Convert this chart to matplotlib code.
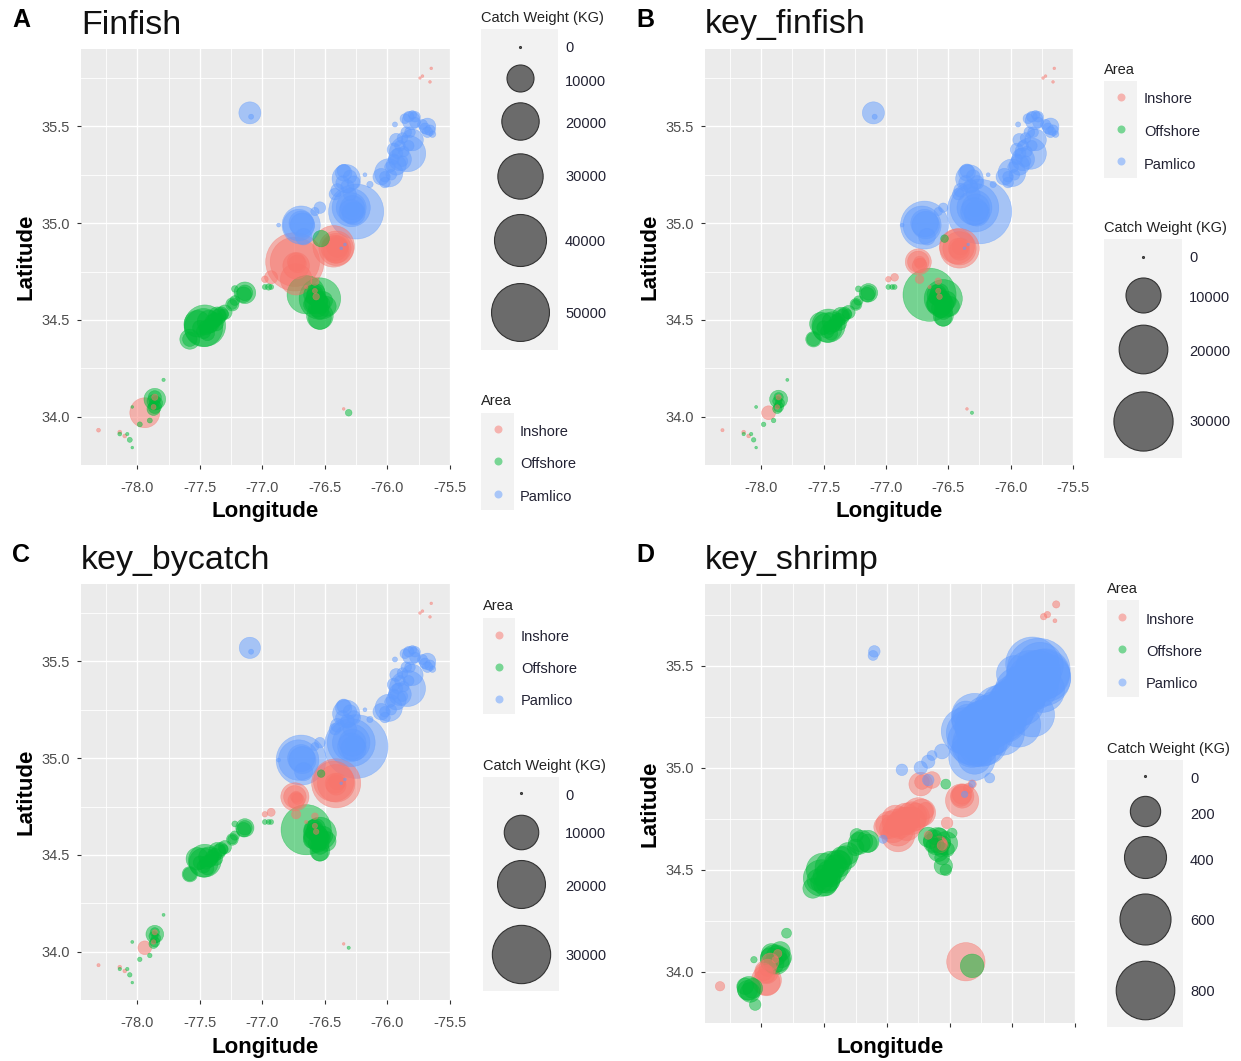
#!/usr/bin/env python
# four panel catch map, sites share positions in panels A-C, D has its own
import numpy as np
import matplotlib
matplotlib.use('Agg')
import matplotlib.pyplot as plt
from matplotlib.patches import Rectangle

plt.rcParams['font.family'] = ['Liberation Sans', 'DejaVu Sans']

W, H = 1241, 1061
colors = {'Inshore': '#F8766D', 'Offshore': '#00BA38', 'Pamlico': '#619CFF'}
areas = ['Inshore', 'Offshore', 'Pamlico']

blue_lon = [-75.68, -75.72, -75.81, -75.80, -75.86, -75.80, -75.64, -75.94, -75.93, -75.95, -75.84, -75.90,
            -75.99, -76.05, -75.93, -76.14, -76.18, -76.33, -76.35, -76.42, -76.25, -76.29, -76.29, -76.27,
            -76.69, -76.71, -76.67, -76.54, -76.58, -76.87, -76.37, -76.34, -77.10, -77.09]
blue_lat = [35.50, 35.51, 35.53, 35.56, 35.54, 35.43, 35.46, 35.51, 35.43, 35.38, 35.36, 35.33,
            35.26, 35.24, 35.30, 35.20, 35.25, 35.23, 35.26, 35.15, 35.06, 35.08, 35.08, 35.05,
            34.99, 34.99, 34.93, 35.08, 35.06, 34.99, 34.87, 34.89, 35.57, 35.55]
blue_a = [3400, 1000, 4200, 650, 1000, 6200, 350, 150, 2000, 2000, 19000, 7000,
          11000, 3400, 5200, 300, 60, 11000, 3400, 1500, 45000, 21000, 12500, 7000,
          21000, 14000, 3400, 1500, 650, 60, 10, 10, 6400, 150]
blue_b = [2000, 600, 2400, 400, 600, 3500, 200, 90, 1100, 1100, 8000, 4000,
          6000, 2000, 3000, 170, 35, 6000, 2000, 850, 36000, 20000, 10000, 5000,
          19400, 12000, 2000, 500, 350, 35, 5, 5, 3700, 90]
blue_c = [2000, 600, 2400, 400, 600, 3500, 200, 90, 1100, 1100, 11000, 4000,
          6000, 2000, 3000, 170, 35, 6000, 2000, 850, 36000, 20000, 12000, 5000,
          21800, 14000, 2500, 700, 350, 35, 5, 5, 3500, 90]

green_lon = [-76.54, -76.65, -76.54, -76.54, -76.57, -76.59, -76.49, -76.53, -77.46, -77.47, -77.52, -77.43,
             -77.36, -77.31, -77.58, -77.24, -77.14, -77.22, -76.98, -76.93, -76.95, -77.86, -77.86, -77.98,
             -77.90, -77.79, -78.04, -78.14, -78.08, -78.06, -78.04, -76.31]
green_lat = [34.61, 34.63, 34.52, 34.51, 34.59, 34.63, 34.57, 34.92, 34.47, 34.46, 34.48, 34.49,
             34.52, 34.53, 34.40, 34.58, 34.64, 34.66, 34.67, 34.67, 34.67, 34.09, 34.05, 33.96,
             33.98, 34.19, 34.05, 33.91, 33.91, 33.88, 33.84, 34.02]
green_a = [25000, 21000, 9700, 7000, 7000, 5200, 5200, 3400, 25000, 21000, 9700, 7000,
           4200, 1000, 5200, 2000, 6200, 350, 150, 150, 300, 6200, 2000, 150,
           150, 30, 10, 60, 30, 150, 10, 350]
green_b = [12000, 24000, 3000, 2000, 5000, 3000, 3000, 300, 9000, 7000, 4000, 3000,
           2200, 500, 1700, 900, 2500, 150, 80, 80, 80, 2350, 600, 60,
           60, 10, 10, 20, 20, 60, 5, 15]
green_c = [9000, 22000, 3000, 2000, 5000, 3000, 3000, 300, 9000, 7000, 4000, 3000,
           2200, 500, 1700, 900, 2500, 150, 80, 80, 80, 2350, 600, 60,
           60, 10, 10, 20, 20, 60, 5, 15]

red_lon = [-76.74, -76.74, -76.73, -76.41, -76.43, -76.41, -76.93, -76.98, -76.73, -76.58, -76.58, -76.57, -76.65,
           -77.94, -77.86, -77.87, -78.31, -78.14, -78.10, -76.35, -75.65, -75.72, -75.74, -75.66]
red_lat = [34.80, 34.80, 34.78, 34.87, 34.88, 34.87, 34.72, 34.71, 34.71, 34.70, 34.65, 34.62, 34.67,
           34.02, 34.10, 34.05, 33.93, 33.92, 33.90, 34.04, 35.80, 35.76, 35.75, 35.73]
red_a = [50800, 36000, 9700, 17000, 25000, 12500, 2000, 350, 14000, 650, 150, 350, 30,
         12500, 300, 150, 60, 60, 60, 10, 10, 10, 5, 10]
red_b = [5300, 3500, 1500, 13000, 10000, 9000, 300, 120, 400, 200, 100, 120, 15,
         1300, 100, 60, 15, 30, 30, 5, 5, 5, 5, 5]
red_c = [6500, 4000, 2000, 21000, 14000, 12000, 350, 120, 500, 200, 100, 120, 15,
         1300, 100, 60, 15, 30, 30, 5, 5, 5, 5, 5]

# the many smaller hauls that fill in the middle of each cluster, A-C
core_blue_lon = [-75.70, -75.68, -75.66, -75.78, -75.83, -75.78, -75.82, -75.88, -75.85, -75.90, -75.87, -75.83,
                 -75.92, -75.95, -75.98, -76.02, -75.97, -76.02, -75.88, -76.35, -76.30, -76.36, -76.32, -76.27,
                 -76.40, -76.30, -76.28, -76.28, -76.29, -76.68, -76.69]
core_blue_lat = [35.49, 35.47, 35.48, 35.52, 35.55, 35.55, 35.47, 35.44, 35.47, 35.40, 35.37, 35.40,
                 35.36, 35.33, 35.29, 35.24, 35.25, 35.21, 35.32, 35.27, 35.24, 35.21, 35.19, 35.21,
                 35.17, 35.15, 35.07, 35.08, 35.06, 34.99, 35.00]
core_blue_a = [1200] * 19 + [2000] * 8 + [8000] * 4
core_blue_bc = [700] * 19 + [1300] * 8 + [6000] * 4

core_green_lon = [-77.42, -77.40, -77.38, -77.35, -77.45, -77.47, -77.44, -77.37, -77.33, -77.30, -77.50, -77.58,
                  -77.14, -77.15, -77.24, -77.22, -76.58, -76.55, -76.53, -76.56, -76.54, -76.60, -76.51, -76.57,
                  -77.86, -77.85, -77.87, -77.87]
core_green_lat = [34.47, 34.49, 34.50, 34.52, 34.46, 34.44, 34.43, 34.48, 34.53, 34.54, 34.46, 34.40,
                  34.64, 34.63, 34.58, 34.60, 34.62, 34.60, 34.58, 34.56, 34.55, 34.58, 34.60, 34.64,
                  34.10, 34.07, 34.08, 34.04]
core_green_a = [2500] * 12 + [3000, 3000, 1000, 1000] + [4000] * 8 + [2000] * 4
core_green_bc = [1200] * 12 + [1500, 1500, 500, 500] + [2500] * 8 + [500] * 4

core_red_lon = [-76.72, -76.73, -76.41, -76.42, -76.40]
core_red_lat = [34.79, 34.80, 34.86, 34.87, 34.88]
core_red_a = [4000, 4000, 9000, 9000, 6000]
core_red_bc = [800, 800, 3000, 3000, 2000]

# panel D catches are on another scale
d_blue_lon = [-75.79, -75.84, -75.74, -75.76, -75.84, -75.95, -75.98, -76.00, -76.11, -76.22, -76.27, -76.35,
              -76.37, -76.32, -76.30, -76.32, -75.90, -76.06, -76.16, -76.56, -76.64, -76.67, -76.73, -76.88,
              -76.18, -77.10, -77.11, -76.67, -76.38, -76.32, -77.03,
              -75.72, -75.78, -75.80, -75.86, -75.82, -75.88, -75.92, -75.93, -75.98, -76.02, -76.06, -76.08,
              -76.13, -76.16, -76.20, -76.19, -76.24, -76.27, -76.30, -76.29, -76.25, -76.34, -76.33, -76.38,
              -76.24, -76.11, -76.00, -75.95, -76.08, -75.84, -76.22, -75.76]
d_blue_lat = [35.48, 35.51, 35.46, 35.44, 35.43, 35.38, 35.46, 35.31, 35.28, 35.21, 35.15, 35.23,
              35.26, 35.10, 35.05, 35.05, 35.36, 35.23, 35.17, 35.08, 35.06, 35.03, 35.00, 34.99,
              34.95, 35.57, 35.55, 34.94, 34.87, 34.92, 34.65,
              35.44, 35.50, 35.46, 35.46, 35.40, 35.40, 35.37, 35.32, 35.34, 35.27, 35.30, 35.24,
              35.26, 35.21, 35.24, 35.17, 35.18, 35.20, 35.25, 35.12, 35.12, 35.17, 35.13, 35.18,
              35.22, 35.26, 35.33, 35.21, 35.17, 35.26, 35.12, 35.38]
d_blue_w = [930, 658, 576, 745, 576, 500, 300, 576, 576, 576, 361, 245,
            160, 361, 245, 500, 430, 430, 430, 42, 16, 32, 32, 23,
            16, 23, 16, 23, 5, 5, 10] + [500] * 24 + [450] * 8
d_red_lon = [-75.65, -75.72, -75.75, -75.66, -76.73, -76.64, -76.40, -76.40, -76.35, -76.32, -76.52, -77.01,
             -76.93, -76.85, -76.75, -76.80, -76.91, -76.91, -76.69, -76.59, -76.67, -76.56, -77.96, -77.96,
             -77.96, -77.87, -77.89, -78.33, -76.37,
             -76.98, -76.95, -76.90, -76.87, -76.84, -76.80, -76.77, -76.72, -76.93, -76.85,
             -76.58, -76.57, -77.95, -77.96, -77.93, -77.98, -76.40, -76.41, -76.72]
d_red_lat = [35.80, 35.75, 35.74, 35.72, 34.92, 34.94, 34.84, 34.86, 34.90, 34.92, 34.73, 34.71,
             34.73, 34.74, 34.78, 34.76, 34.69, 34.67, 34.79, 34.63, 34.67, 34.62, 34.00, 33.96,
             33.95, 34.09, 34.06, 33.93, 34.05,
             34.72, 34.70, 34.72, 34.74, 34.71, 34.74, 34.76, 34.78, 34.75, 34.76,
             34.63, 34.62, 34.02, 33.99, 34.05, 34.00, 34.87, 34.86, 34.93]
d_red_w = [7, 5, 5, 1, 117, 54, 245, 117, 16, 10, 23, 117,
           160, 160, 196, 196, 196, 245, 54, 42, 10, 16, 117, 196,
           160, 10, 5, 14, 330,
           160, 160, 160, 160, 160, 160, 160, 160, 160, 160,
           40, 40, 60, 60, 60, 60, 80, 80, 40]
d_green_lon = [-76.32, -77.51, -77.44, -77.39, -77.52, -77.59, -77.49, -77.33, -77.25, -77.15, -77.24, -76.60,
               -76.67, -76.53, -76.59, -76.55, -76.53, -76.48, -76.53, -77.89, -77.92, -77.84, -78.10, -78.13,
               -78.05, -77.80, -78.06,
               -77.50, -77.47, -77.45, -77.43, -77.48, -77.52, -77.41, -77.38, -77.36, -77.55, -77.46, -77.31,
               -77.22, -77.20, -77.15, -76.65, -76.62, -76.60, -76.57, -76.55, -76.52, -76.58, -76.63, -76.56,
               -77.88, -77.86, -77.90, -77.93, -77.85, -78.09, -78.07, -78.11]
d_green_lat = [34.03, 34.50, 34.51, 34.53, 34.46, 34.41, 34.43, 34.56, 34.61, 34.63, 34.67, 34.64,
               34.66, 34.63, 34.59, 34.52, 34.50, 34.68, 34.92, 34.06, 34.09, 34.07, 33.92, 33.93,
               33.84, 34.19, 34.06,
               34.47, 34.49, 34.47, 34.50, 34.44, 34.44, 34.52, 34.54, 34.56, 34.45, 34.45, 34.58,
               34.63, 34.64, 34.64, 34.64, 34.66, 34.62, 34.60, 34.63, 34.60, 34.67, 34.62, 34.56,
               34.08, 34.05, 34.04, 34.07, 34.10, 33.90, 33.92, 33.91]
d_green_w = [117, 245, 245, 160, 300, 81, 117, 117, 54, 67, 32, 160,
             81, 117, 81, 67, 23, 16, 16, 196, 81, 81, 117, 54,
             23, 16, 5] + [100] * 15 + [40] * 9 + [80] * 8

size_a = [0, 10000, 20000, 30000, 40000, 50000]
size_b = [0, 10000, 20000, 30000]
size_d = [0, 200, 400, 600, 800]

xticks = [-78.0, -77.5, -77.0, -76.5, -76.0, -75.5]
yticks = [34.0, 34.5, 35.0, 35.5]
xminor = [-78.25, -77.75, -77.25, -76.75, -76.25, -75.75]
yminor = [33.75, 34.25, 34.75, 35.25, 35.75]

fig = plt.figure(figsize=(W / 100, H / 100), dpi=100, facecolor='white')


def diam(w, k):
    # circle diameter in pixels, area follows the catch
    return 2 + k * np.sqrt(np.asarray(w, dtype=float))


def area_pt(d):
    return (d * 0.72) ** 2


def panel(box, letter, title, sites, k, label_y, xlabels=True):
    l, t, r, b = box
    ax = fig.add_axes([l / W, 1 - b / H, (r - l) / W, (b - t) / H], facecolor='#EBEBEB')
    lon, lat, wt, col = [], [], [], []
    for name, (x, y, w) in zip(areas, sites):
        lon += x
        lat += y
        wt += w
        col += [colors[name]] * len(x)
    lon, lat, wt = np.array(lon), np.array(lat), np.array(wt)
    order = np.argsort(-wt)  # big ones underneath
    ax.scatter(lon[order], lat[order], s=area_pt(diam(wt[order], k)), c=[col[i] for i in order],
               alpha=0.5, linewidths=0.4, edgecolors=[col[i] for i in order], zorder=3)
    ax.set_xlim(-78.45, -75.5)
    ax.set_ylim(33.76, 35.9)
    ax.set_xticks(xticks)
    ax.set_yticks(yticks)
    ax.set_xticks(xminor, minor=True)
    ax.set_yticks(yminor, minor=True)
    ax.grid(True, which='major', color='white', lw=1.0, zorder=1)
    ax.grid(True, which='minor', color='white', lw=0.6, zorder=1)
    ax.set_axisbelow(True)
    ax.tick_params(which='minor', length=0)
    ax.tick_params(which='major', length=3, width=0.8, color='#333333', labelcolor='#4D4D4D',
                   labelsize=10.5)
    ax.tick_params(axis='x', which='major', pad=8.5)
    ax.tick_params(axis='y', which='major', pad=5)
    if xlabels:
        ax.set_xticklabels(['%.1f' % v for v in xticks])
    else:
        ax.set_xticklabels([])
    ax.set_yticklabels(['%.1f' % v for v in yticks])
    for s in ax.spines.values():
        s.set_visible(False)
    ov.text((l + r) / 2, label_y, 'Longitude', ha='center', va='center', fontsize=16, fontweight='bold')
    ov.text(l - 55, (t + b) / 2, 'Latitude', rotation=90, ha='center', va='center',
            fontsize=16, fontweight='bold')
    ov.text(l, t - 24, title, ha='left', va='center', fontsize=24.5, color='#111111')
    ov.text(l - 69, t - 29, letter, ha='left', va='center', fontsize=18, fontweight='bold')
    return ax


def key_box(x0, y0, x1, y1):
    ov.add_patch(Rectangle((x0, y0), x1 - x0, y1 - y0, facecolor='#F2F2F2', edgecolor='none', zorder=1))


def area_legend(tx, ty, box, cx, cy, lx, ly):
    ov.text(tx, ty + 1, 'Area', ha='left', va='center', fontsize=10.5, color='#222222')
    key_box(*box)
    for name, a, b in zip(areas, cy, ly):
        ov.scatter([cx], [a], s=area_pt(8), color=colors[name], alpha=0.5, linewidths=0, zorder=2)
        ov.text(lx, b + 1, name, ha='left', va='center', fontsize=10.5, color='#222233')


def size_legend(tx, ty, box, cx, cy, lx, ly, vals, k):
    ov.text(tx, ty + 1, 'Catch Weight (KG)', ha='left', va='center', fontsize=10.5, color='#222222')
    key_box(*box)
    for v, a, b in zip(vals, cy, ly):
        ov.scatter([cx], [a], s=area_pt(diam(v, k)), color='#6B6B6B', edgecolors='#333333',
                   linewidths=0.8, zorder=2)
        ov.text(lx, b + 1, str(v), ha='left', va='center', fontsize=10.5, color='#222233')


# overlay in picture pixels for the legends and outer labels
ov = fig.add_axes([0, 0, 1, 1], facecolor='none', zorder=5)
ov.set_xlim(0, W)
ov.set_ylim(H, 0)
ov.axis('off')

panel((81, 49, 450, 465), 'A', 'Finfish',
      [(red_lon + core_red_lon, red_lat + core_red_lat, red_a + core_red_a),
       (green_lon + core_green_lon, green_lat + core_green_lat, green_a + core_green_a),
       (blue_lon + core_blue_lon, blue_lat + core_blue_lat, blue_a + core_blue_a)], 0.25, 512)
panel((705, 49, 1073, 465), 'B', 'key_finfish',
      [(red_lon + core_red_lon, red_lat + core_red_lat, red_b + core_red_bc),
       (green_lon + core_green_lon, green_lat + core_green_lat, green_b + core_green_bc),
       (blue_lon + core_blue_lon, blue_lat + core_blue_lat, blue_b + core_blue_bc)], 0.33, 512)
panel((81, 584, 450, 1000), 'C', 'key_bycatch',
      [(red_lon + core_red_lon, red_lat + core_red_lat, red_c + core_red_bc),
       (green_lon + core_green_lon, green_lat + core_green_lat, green_c + core_green_bc),
       (blue_lon + core_blue_lon, blue_lat + core_blue_lat, blue_c + core_blue_bc)], 0.325, 1047)
panel((705, 584, 1075, 1023), 'D', 'key_shrimp',
      [(d_red_lon, d_red_lat, d_red_w), (d_green_lon, d_green_lat, d_green_w),
       (d_blue_lon, d_blue_lat, d_blue_w)], 2.0, 1047, xlabels=False)

size_legend(481, 17, (481, 29, 558, 350), 520, [47, 78, 121, 176, 240, 312], 565,
            [47, 81, 123, 176, 241, 313], size_a, 0.25)
area_legend(481, 400, (481, 413, 514, 510), 498, [429, 461, 494], 520, [431, 463, 496])

area_legend(1104, 69, (1104, 81, 1137, 178), 1121, [97, 129, 161], 1144, [98, 131, 164])
size_legend(1104, 227, (1104, 239, 1182, 458), 1143, [257, 295, 349, 421], 1189,
            [257, 297, 351, 421], size_b, 0.33)

area_legend(483, 605, (483, 618, 515, 714), 499, [635, 667, 699], 521, [636, 668, 700])
size_legend(483, 765, (483, 777, 559, 991), 521, [793, 832, 884, 954], 565,
            [795, 833, 886, 955], size_b, 0.325)

area_legend(1107, 588, (1107, 600, 1139, 697), 1122, [617, 649, 682], 1146, [619, 651, 683])
size_legend(1107, 748, (1107, 760, 1183, 1027), 1145, [776, 811, 857, 919, 990], 1190,
            [778, 814, 860, 920, 991], size_d, 2.0)

fig.savefig('out.png', dpi=100)
